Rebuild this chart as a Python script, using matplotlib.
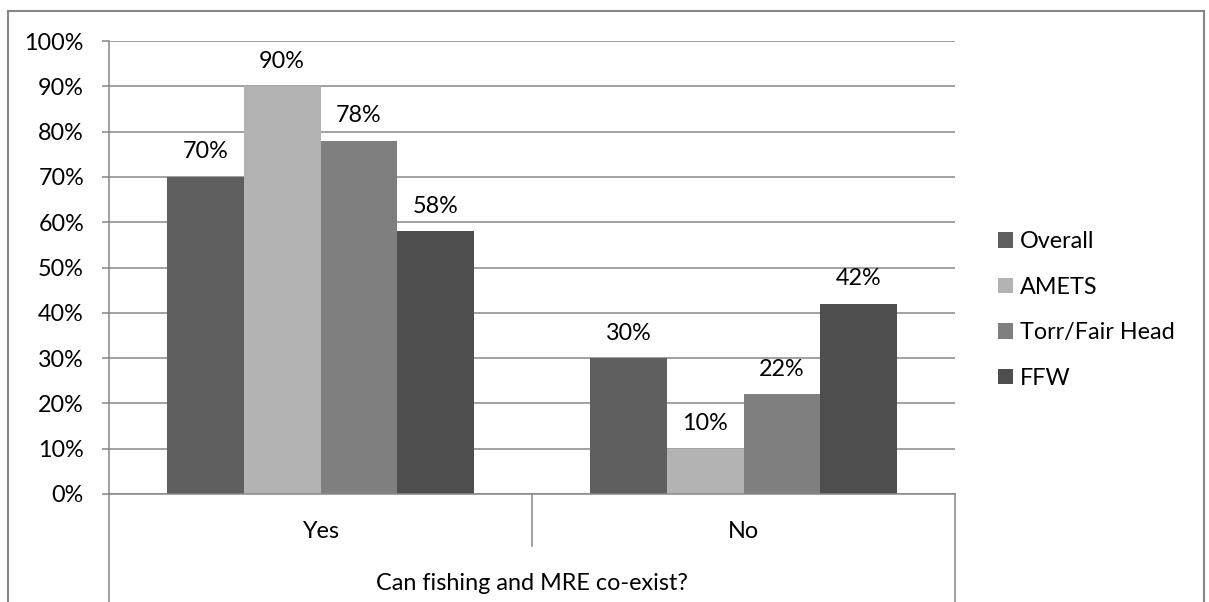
import numpy as np
import matplotlib
matplotlib.use('Agg')
import matplotlib.pyplot as plt
from matplotlib.lines import Line2D
import matplotlib.transforms as mtransforms

plt.rcParams['font.family'] = ['Lato', 'DejaVu Sans']

categories = ['Yes', 'No']
series = ['Overall', 'AMETS', 'Torr/Fair Head', 'FFW']
values = [
    [70, 30],
    [90, 10],
    [78, 22],
    [58, 42],
]
colors = ['#5f5f5f', '#b3b3b3', '#7f7f7f', '#4e4e4e']
axis_title = 'Can fishing and MRE co-exist?'

W, H = 1209, 602
fig = plt.figure(figsize=(W / 100, H / 100), dpi=100)
ax = fig.add_axes([109 / W, 1 - 494 / H, (955 - 109) / W, (494 - 41) / H])

grey = '#878787'
fs = 16.8
bw = 0.1815
x = np.arange(len(categories))
for i, (name, vals) in enumerate(zip(series, values)):
    pos = x + (i - 1.5) * bw
    bars = ax.bar(pos, vals, width=bw, color=colors[i], label=name, zorder=2)
    for b, v in zip(bars, vals):
        ax.text(b.get_x() + b.get_width() / 2, v + 3.2, f'{v}%',
                ha='center', va='bottom', fontsize=fs, color='black')

ax.set_xlim(-0.5, 1.5)
ax.set_ylim(0, 100)
ax.set_yticks(np.arange(0, 101, 10))
ax.set_yticklabels([f'{v}%' for v in range(0, 101, 10)], fontsize=fs)
ax.tick_params(axis='y', length=5, width=1.1, color=grey, pad=13)
ax.set_xticks([])
ax.yaxis.grid(True, color=grey, linewidth=1.1, zorder=0)
ax.set_axisbelow(True)
for s in ['top', 'right']:
    ax.spines[s].set_visible(False)
for s in ['left', 'bottom']:
    ax.spines[s].set_color(grey)
    ax.spines[s].set_linewidth(1.1)

# multi-level category axis
trans = mtransforms.blended_transform_factory(ax.transData, fig.transFigure)
y0 = 1 - 494 / H
ax.add_line(Line2D([0.5, 0.5], [y0, 1 - 546 / H], transform=trans,
                   color=grey, lw=1.1, clip_on=False))
for xv in [-0.5, 1.5]:
    ax.add_line(Line2D([xv, xv], [y0, 0], transform=trans,
                       color=grey, lw=1.1, clip_on=False))
for xi, c in zip(x, categories):
    ax.text(xi, 1 - 531 / H, c, transform=trans, ha='center', va='center',
            fontsize=fs)
ax.text(0.5, 1 - 583 / H, axis_title, transform=trans, ha='center',
        va='center', fontsize=fs)

# outer chart border
for xs, ys in [([8, 1204], [11, 11]), ([8, 8], [11, H]), ([1204, 1204], [11, H])]:
    fig.add_artist(Line2D([v / W for v in xs], [1 - v / H for v in ys],
                          color=grey, lw=1.5))

ax.legend(loc='center left', bbox_to_anchor=(998 / W, 1 - 310 / H),
          bbox_transform=fig.transFigure, frameon=False, fontsize=fs,
          handlelength=0.65, handleheight=0.65, handletextpad=0.3,
          labelspacing=1.05, borderpad=0, borderaxespad=0)

fig.savefig('out.png', dpi=100, facecolor='white')
